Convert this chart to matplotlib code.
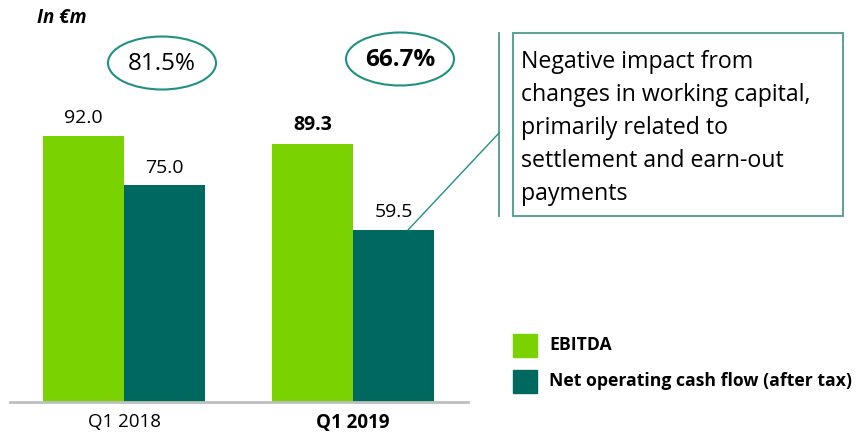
import matplotlib
matplotlib.use("Agg")
import matplotlib.pyplot as plt
from matplotlib.patches import Ellipse, Rectangle
from matplotlib.lines import Line2D
import numpy as np

plt.rcParams['font.family'] = ['Open Sans', 'DejaVu Sans']

# data
quarters = ['Q1 2018', 'Q1 2019']
ebitda = [92.0, 89.3]
nocf = [75.0, 59.5]
conversion = ['81.5%', '66.7%']
series_names = ['EBITDA', 'Net operating cash flow (after tax)']
note = ('Negative impact from\nchanges in working capital,\n'
        'primarily related to\nsettlement and earn-out\npayments')

green = '#7AD300'
teal = '#00695F'
ring = '#1F9182'

W, H = 858, 434
fig = plt.figure(figsize=(W / 100, H / 100), dpi=100)


def fx(px):
    return px / W


def fy(py):
    return 1 - py / H


# axes placed so baseline sits at y=402px
ax = fig.add_axes([fx(9.5), fy(402), fx(458), (402 - 113) / H])
x = np.arange(len(quarters))
bw = 0.354
ax.bar(x - bw / 2, ebitda, bw, color=green)
ax.bar(x + bw / 2, nocf, bw, color=teal)
ax.set_xlim(-0.5, 1.5)
ax.set_ylim(0, 100)
ax.set_yticks([])
ax.set_xticks(x)
ax.set_xticklabels(quarters, fontsize=13.5)
ax.get_xticklabels()[1].set_fontweight('bold')
ax.tick_params(axis='x', length=0, pad=8)
for s in ['top', 'right', 'left']:
    ax.spines[s].set_visible(False)
ax.spines['bottom'].set_color('#BFBFBF')
ax.spines['bottom'].set_linewidth(2)

# value labels
for i in range(len(quarters)):
    wt = 'bold' if i == 1 else 'normal'
    ax.text(x[i] - bw / 2, ebitda[i] + 3, f'{ebitda[i]:.1f}', ha='center', va='bottom',
            fontsize=14, fontweight=wt)
    ax.text(x[i] + bw / 2, nocf[i] + 3, f'{nocf[i]:.1f}', ha='center', va='bottom',
            fontsize=14)

# unit label
fig.text(fx(37), fy(18), 'In €m', fontsize=13.5, fontweight='bold', style='italic',
         ha='left', va='center')

# conversion ellipses
centers = [(162, 63), (400, 59)]
for (cx, cy), lab, wt in zip(centers, conversion, ['normal', 'bold']):
    fig.add_artist(Ellipse((fx(cx), fy(cy)), 108 / W, 53 / H, transform=fig.transFigure,
                           fill=False, edgecolor=ring, linewidth=1.5))
    fig.text(fx(cx), fy(cy + 1), lab, ha='center', va='center', fontsize=17.5, fontweight=wt)

# callout box
fig.add_artist(Line2D([fx(499), fx(499)], [fy(33), fy(216)], color='#4C9A8E', lw=1.3))
fig.add_artist(Rectangle((fx(513), fy(216)), (843 - 513) / W, (216 - 33) / H,
                         transform=fig.transFigure, fill=False, edgecolor='#4C9A8E', lw=1.3))
fig.text(fx(521), fy(128), note, ha='left', va='center', fontsize=16.7, linespacing=1.5)

# connector from the 59.5 bar to the box bracket
p0 = fig.transFigure.inverted().transform(ax.transData.transform((x[1] + 0.24, nocf[1])))
fig.add_artist(Line2D([p0[0], fx(499)], [p0[1], fy(133)], color=ring, lw=1))

# legend
for k, (name, col) in enumerate(zip(series_names, [green, teal])):
    top = 334 + k * 36
    fig.add_artist(Rectangle((fx(513), fy(top + 23)), 24 / W, 23 / H,
                             transform=fig.transFigure, color=col))
    fig.text(fx(549), fy(top + 11.5), name, ha='left', va='center', fontsize=12.7,
             fontweight='bold')

fig.savefig('out.png', dpi=100)
